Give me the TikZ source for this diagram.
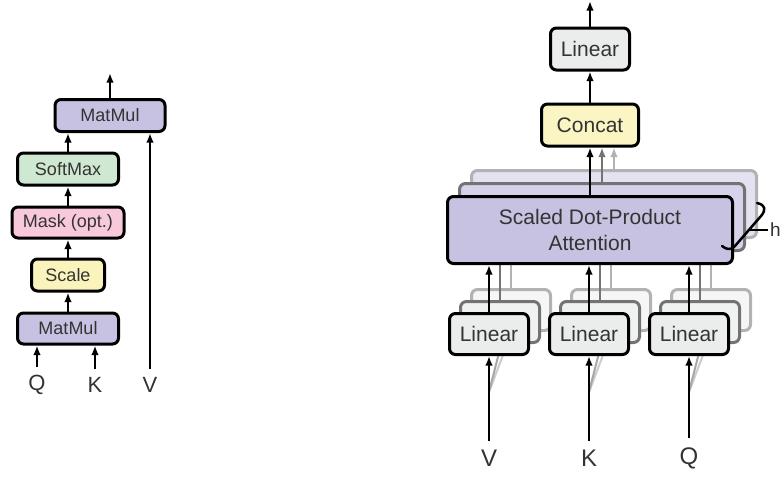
\documentclass[tikz,border=0pt]{standalone}
\usepackage{fontspec}
\setmainfont{Liberation Sans}
\usetikzlibrary{arrows.meta,calc}
\definecolor{purp}{HTML}{C8C2E2}
\definecolor{purp2}{HTML}{D6D2EA}
\definecolor{purp3}{HTML}{E4E2F1}
\definecolor{grn}{HTML}{CFE8D1}
\definecolor{pnk}{HTML}{F7C9DA}
\definecolor{yel}{HTML}{FAF4BC}
\definecolor{yel2}{HTML}{FBF5C4}
\definecolor{lgr}{HTML}{EBEDEC}
\definecolor{lgr2}{HTML}{F0F1F1}
\definecolor{lgr3}{HTML}{F6F6F6}
\definecolor{txt}{HTML}{333333}
\begin{document}
\begin{tikzpicture}[x=1pt,y=-1pt,
  box/.style={draw=black, line width=3pt, rounded corners=6pt, inner sep=0pt, text=txt},
  lbox/.style={box, font=\fontsize{18}{20}\selectfont},
  rbox/.style={box, font=\fontsize{21}{24}\selectfont},
  back2/.style={draw=black!55, line width=3pt, rounded corners=6pt, inner sep=0pt},
  back3/.style={draw=black!30, line width=3pt, rounded corners=6pt, inner sep=0pt},
  arr/.style={line width=2.6pt, -{Latex[length=9.5pt,width=7.5pt]}},
  lab/.style={inner sep=1pt, text=txt},
  linbox/.style={minimum width=79pt, minimum height=41pt},
  attbox/.style={minimum width=285pt, minimum height=67pt},
  bline2/.style={draw=black!55, line width=2.5pt},
  bline3/.style={draw=black!30, line width=2.5pt},
  faint/.style={draw=black!35, line width=2pt}]
\useasboundingbox (0,0) rectangle (783,477);
\clip (0,0) rectangle (783,477);
\fill[white] (0,0) rectangle (783,477);

% ---------- left: scaled dot-product attention ----------
\node[lbox, fill=purp, minimum width=110pt, minimum height=32pt] (mmtop) at (110,115.5) {MatMul};
\node[lbox, fill=grn, minimum width=101pt, minimum height=32pt] (sm) at (68,169) {SoftMax};
\node[lbox, fill=pnk, minimum width=112pt, minimum height=31pt] (mask) at (68,222.5) {Mask (opt.)};
\node[lbox, fill=yel, minimum width=73pt, minimum height=32pt] (scale) at (68,275) {Scale};
\node[lbox, fill=purp, minimum width=101pt, minimum height=31pt] (mm1) at (68,328.5) {MatMul};
\node[lab, font=\fontsize{22}{24}\selectfont] (Ql) at (37,385) {Q};
\node[lab, font=\fontsize{22}{24}\selectfont] (Kl) at (95,385) {K};
\node[lab, font=\fontsize{22}{24}\selectfont] (Vl) at (150,385) {V};
\coordinate (lout) at (110,73);

\draw[arr] (mm1.north) -- (scale.south);
\draw[arr] (scale.north) -- (mask.south);
\draw[arr] (mask.north) -- (sm.south);
\draw[arr] (sm.north) -- (sm.north |- mmtop.south);
\draw[arr] (mmtop.north) -- (lout);
\draw[arr] ([yshift=7pt]Ql.north) -- (Ql.north |- mm1.south);
\draw[arr] ([yshift=7pt]Kl.north) -- (Kl.north |- mm1.south);
\draw[arr] ([yshift=7pt]Vl.north) -- (Vl.north |- mmtop.south);

% ---------- right: multi-head attention ----------
\node[rbox, fill=lgr, minimum width=79pt, minimum height=42pt] (lo) at (590,49) {Linear};
\node[rbox, fill=yel2, minimum width=97pt, minimum height=42pt] (cc) at (590,125) {Concat};
\coordinate (rout) at (590,1);
\draw[arr] (lo.north) -- (rout);
\draw[arr] (cc.north) -- (lo.south);

% attention stack
\node[back3, fill=purp3, attbox] (at3) at (614,204) {};
\draw[arr, draw=black!30] (at3.north) -- (at3.north |- cc.south);
\node[back2, fill=purp2, attbox] (at2) at (602,217) {};
\draw[arr, draw=black!55] (at2.north) -- (at2.north |- cc.south);

% linear stacks
\foreach \n/\x in {v/489,k/589,q/689}{
  \node[back3, fill=lgr3, linbox] (\n3) at (\x+22,310) {};
  \draw[bline3] (\n3.north) -- (\n3.north |- at3.south);
  \node[back2, fill=lgr2, linbox] (\n2) at (\x+11,322) {};
  \draw[bline2] (\n2.north) -- (\n2.north |- at3.south);
  \coordinate (\n s) at (\x,392);
  \coordinate (\n d2) at (\x+12,345);
  \coordinate (\n d3) at (\x+22,334);
  \draw[faint, draw=black!20] (\n s) -- (\n d3);
  \draw[faint] (\n s) -- (\n d2);
}

\node[rbox, fill=purp, attbox, align=center, font=\fontsize{21}{26}\selectfont] (att) at (590,230) {Scaled Dot-Product\\Attention};
\draw[arr] (att.north) -- (cc.south);

\node[rbox, fill=lgr, linbox] (lv) at (489,334) {Linear};
\node[rbox, fill=lgr, linbox] (lk) at (589,334) {Linear};
\node[rbox, fill=lgr, linbox] (lq) at (689,334) {Linear};

\draw[arr] (lv.north) -- (lv.north |- att.south);
\draw[arr] (lk.north) -- (lk.north |- att.south);
\draw[arr] (lq.north) -- (lq.north |- att.south);

\node[lab, font=\fontsize{24}{26}\selectfont] (Vr) at (489,458) {V};
\node[lab, font=\fontsize{24}{26}\selectfont] (Kr) at (589,458) {K};
\node[lab, font=\fontsize{24}{26}\selectfont] (Qr) at (689,458) {Q};
\draw[arr] ([yshift=8pt]Vr.north) -- (lv.south);
\draw[arr] ([yshift=8pt]Kr.north) -- (lk.south);
\draw[arr] ([yshift=8pt]Qr.north) -- (lq.south);

% brace and h
\coordinate (b1) at (757,203);
\coordinate (b2) at (722,246);
\coordinate (bm) at (749,230);
\coordinate (bt) at (768,230);
\draw[line width=2.5pt, line cap=round, line join=round] (b1) .. controls (766,205) and (766,210) .. (761,216) -- (735,246) .. controls (730,251) and (726,249) .. (b2);
\draw[line width=1.5pt] (bm) -- (bt);
\node[lab, anchor=west, inner sep=0.5pt, font=\fontsize{19}{22}\selectfont] (h) at (769.5,230) {h};
\end{tikzpicture}
\end{document}
